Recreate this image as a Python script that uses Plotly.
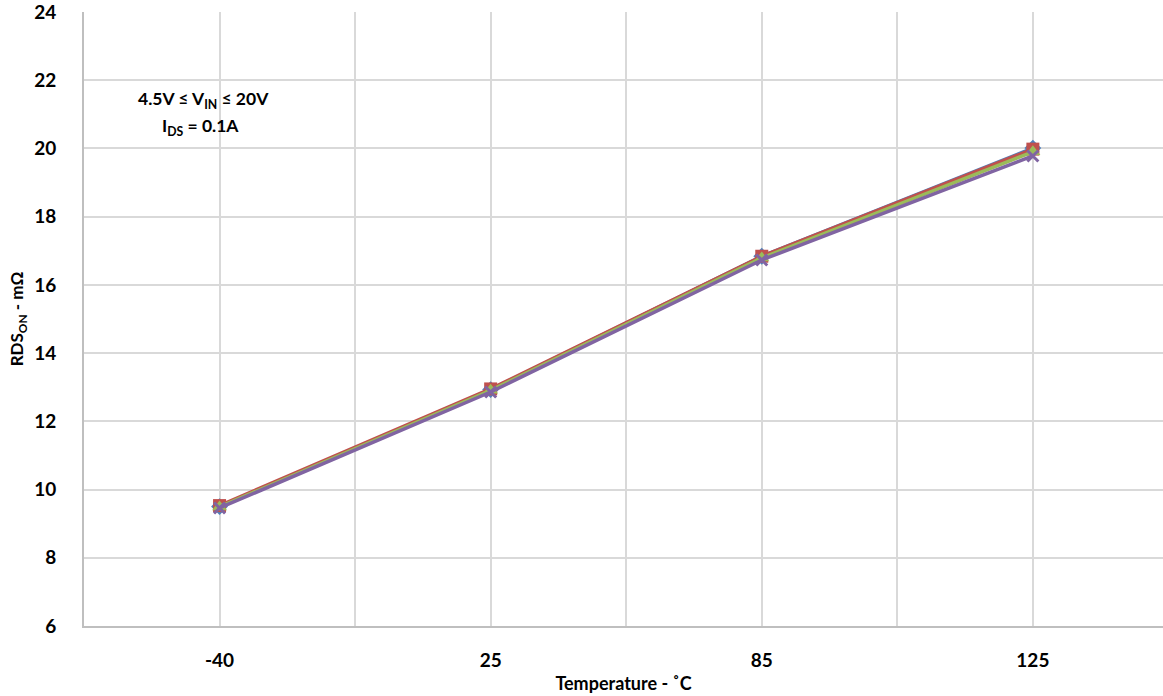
import plotly.graph_objects as go

temps = ["-40", "25", "85", "125"]
s1 = [9.50, 12.93, 16.84, 20.01]
s2 = [9.53, 12.95, 16.84, 19.98]
s3 = [9.49, 12.91, 16.79, 19.90]
s4 = [9.46, 12.86, 16.73, 19.78]

series = [
    ("Series 1", s1, "#4F81BD", "diamond"),
    ("Series 2", s2, "#C0504D", "square"),
    ("Series 3", s3, "#9BBB59", "triangle-up"),
    ("Series 4", s4, "#8064A2", "x-thin"),
]

xpos = list(range(len(temps)))
fig = go.Figure()
for name, vals, col, sym in series:
    fig.add_trace(go.Scatter(
        x=xpos, y=vals, mode="lines+markers", name=name,
        line=dict(color=col, width=3.5),
        marker=dict(symbol=sym, size=13 if sym != "x-thin" else 11, color=col,
                    line=dict(color=col, width=3 if sym == "x-thin" else 0)),
    ))

font_family = "Lato, 'Open Sans', sans-serif"
fig.update_layout(
    width=1163, height=696,
    margin=dict(l=84, r=0, t=12, b=70),
    paper_bgcolor="white", plot_bgcolor="white",
    showlegend=False,
    font=dict(family=font_family, size=19, color="black"),
    xaxis=dict(
        range=[-0.5, 3.48], automargin=False,
        tickmode="array", tickvals=xpos, ticktext=["<b>%s</b>" % t for t in temps],
        showgrid=False, zeroline=False,
        showline=True, linecolor="#BFBFBF", linewidth=2,
        ticks="", ticklabelstandoff=16,
        title=dict(text="<b>Temperature - ˚C</b>", font=dict(size=18), standoff=8),
        minor=dict(dtick=0.5, tick0=-0.5, showgrid=True, gridcolor="#D9D9D9", gridwidth=1.5),
    ),
    yaxis=dict(
        range=[6, 24], automargin=False,
        tickmode="array",
        tickvals=list(range(6, 25, 2)),
        ticktext=["<b>%d</b>" % v for v in range(6, 25, 2)],
        ticklabeloverflow="allow",
        showgrid=True, gridcolor="#D9D9D9", gridwidth=1.5,
        zeroline=False, showline=True, linecolor="#BFBFBF", linewidth=2,
        ticks="", ticklabelstandoff=22,
        title=dict(text="<b>RDS<sub>ON</sub> - mΩ</b>", font=dict(size=17), standoff=6),
    ),
    annotations=[
        dict(x=-0.06, y=21.42, xref="x", yref="y", showarrow=False,
             text="<b>4.5V ≤ V<sub>IN</sub> ≤ 20V</b>", font=dict(size=17.5), xanchor="center"),
        dict(x=-0.07, y=20.62, xref="x", yref="y", showarrow=False,
             text="<b>I<sub>DS</sub> = 0.1A</b>", font=dict(size=17.5), xanchor="center"),
    ],
)

fig.write_html(
    "out.html",
    config={"displayModeBar": False},
    post_script="document.body.style.margin='0';document.body.style.overflow='hidden';",
)
